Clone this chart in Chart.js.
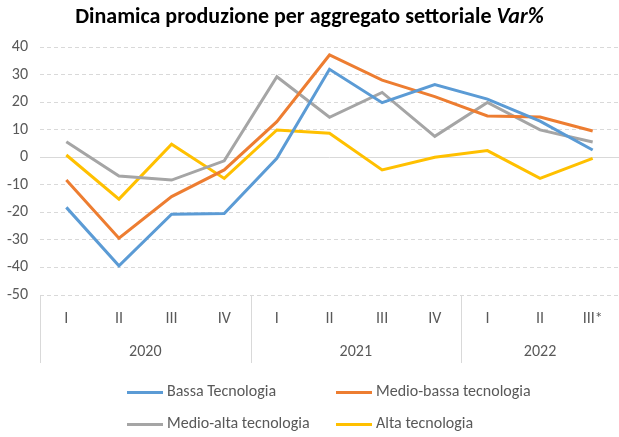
<!DOCTYPE html>
<html lang="it">
<head>
<meta charset="UTF-8">
<title>Dinamica produzione per aggregato settoriale</title>
<script src="https://cdn.jsdelivr.net/npm/chart.js"></script>
<style>
  body { margin: 0; background: #fff; }
  #wrap { position: relative; width: 619px; height: 437px; font-family: Carlito, 'Liberation Sans Narrow', 'Open Sans', sans-serif; }
  #title { position: absolute; top: 2px; left: 0; width: 619px; text-align: center; font-size: 22px; font-weight: bold; color: #000; }
  #chart { position: absolute; top: 0; left: 0; }
  #legend { position: absolute; top: 380px; left: 0; width: 619px; font-size: 16px; color: #595959; }
  .item { position: absolute; height: 22px; line-height: 22px; white-space: nowrap; }
  .item span.swatch { display: inline-block; width: 36px; height: 3px; vertical-align: middle; margin-right: 4px; }
</style>
</head>
<body>
<div id="wrap">
  <canvas id="chart" width="619" height="437"></canvas>
  <div id="title">Dinamica produzione per aggregato settoriale <i>Var%</i></div>
  <div id="legend"></div>
</div>
<script>
// quarters and year groups
const quarters = ['I', 'II', 'III', 'IV', 'I', 'II', 'III', 'IV', 'I', 'II', 'III*'];
const years = ['2020', '2021', '2022'];
const quartersPerYear = [4, 4, 3];

const seriesNames = ['Bassa Tecnologia', 'Medio-bassa tecnologia', 'Medio-alta tecnologia', 'Alta tecnologia'];
const seriesColors = ['#5B9BD5', '#ED7D31', '#A5A5A5', '#FFC000'];

const bassa      = [-18.2, -39.4, -20.7, -20.4, -0.4, 31.9, 19.8, 26.4, 21.1, 13.1, 2.6];
const medioBassa = [-8.3, -29.4, -14.3, -4.6, 12.9, 37.1, 28.0, 22.0, 15.0, 14.6, 9.5];
const medioAlta  = [5.6, -6.8, -8.3, -1.3, 29.2, 14.5, 23.5, 7.6, 19.9, 9.9, 5.5];
const alta       = [0.8, -15.2, 4.7, -7.7, 9.9, 8.7, -4.6, 0.0, 2.4, -7.7, -0.4];

const seriesValues = [bassa, medioBassa, medioAlta, alta];

const fontFamily = "Carlito, 'Liberation Sans Narrow', 'Open Sans', sans-serif";
const gridColor = '#D9D9D9';

// year labels under the quarters + separators
const yearGroups = {
  id: 'yearGroups',
  afterDraw(chart) {
    const x = chart.scales.x;
    const ctx = chart.ctx;
    const half = (x.getPixelForValue(1) - x.getPixelForValue(0)) / 2;
    const top = chart.chartArea.bottom;
    const bottom = top + 68;
    ctx.save();
    ctx.strokeStyle = gridColor;
    ctx.lineWidth = 1;
    ctx.fillStyle = '#595959';
    ctx.font = '16px ' + fontFamily;
    ctx.textAlign = 'center';
    ctx.textBaseline = 'middle';
    let start = 0;
    years.forEach((yr, i) => {
      const end = start + quartersPerYear[i] - 1;
      const left = x.getPixelForValue(start) - half;
      ctx.beginPath();
      ctx.moveTo(Math.round(left) + 0.5, top);
      ctx.lineTo(Math.round(left) + 0.5, bottom);
      ctx.stroke();
      const mid = (x.getPixelForValue(start) + x.getPixelForValue(end)) / 2;
      ctx.fillText(yr, mid, top + 57);
      start = end + 1;
    });
    ctx.restore();
  }
};

new Chart(document.getElementById('chart'), {
  type: 'line',
  data: {
    labels: quarters,
    datasets: seriesNames.map((name, i) => ({
      label: name,
      data: seriesValues[i],
      borderColor: seriesColors[i],
      backgroundColor: seriesColors[i],
      borderWidth: 3,
      pointRadius: 0,
      tension: 0,
      fill: false
    }))
  },
  options: {
    responsive: false,
    animation: false,
    layout: { padding: { top: 47, right: 0, bottom: 62, left: 0 } },
    plugins: { legend: { display: false }, title: { display: false }, tooltip: { enabled: false } },
    scales: {
      x: {
        offset: true,
        grid: { display: false, drawTicks: false },
        border: { display: false },
        ticks: { color: '#595959', font: { size: 16, family: fontFamily }, padding: 14, maxRotation: 0, autoSkip: false },
        afterFit: s => { s.height = 80; }
      },
      y: {
        min: -50,
        max: 40,
        ticks: { stepSize: 10, color: '#595959', font: { size: 16, family: fontFamily }, padding: 12 },
        grid: { color: gridColor, lineWidth: 1, drawTicks: false },
        border: { display: false, dash: ctx => (ctx.tick && ctx.tick.value === 0) ? [] : [4, 3] },
        afterFit: s => { s.width = 40; }
      }
    }
  },
  plugins: [yearGroups]
});

// legend, two per row
const legend = document.getElementById('legend');
const cols = [127, 336];
seriesNames.forEach((name, i) => {
  const el = document.createElement('div');
  el.className = 'item';
  el.style.left = cols[i % 2] + 'px';
  el.style.top = (i < 2 ? 0 : 32) + 'px';
  el.innerHTML = '<span class="swatch" style="background:' + seriesColors[i] + '"></span>' + name;
  legend.appendChild(el);
});
</script>
</body>
</html>
